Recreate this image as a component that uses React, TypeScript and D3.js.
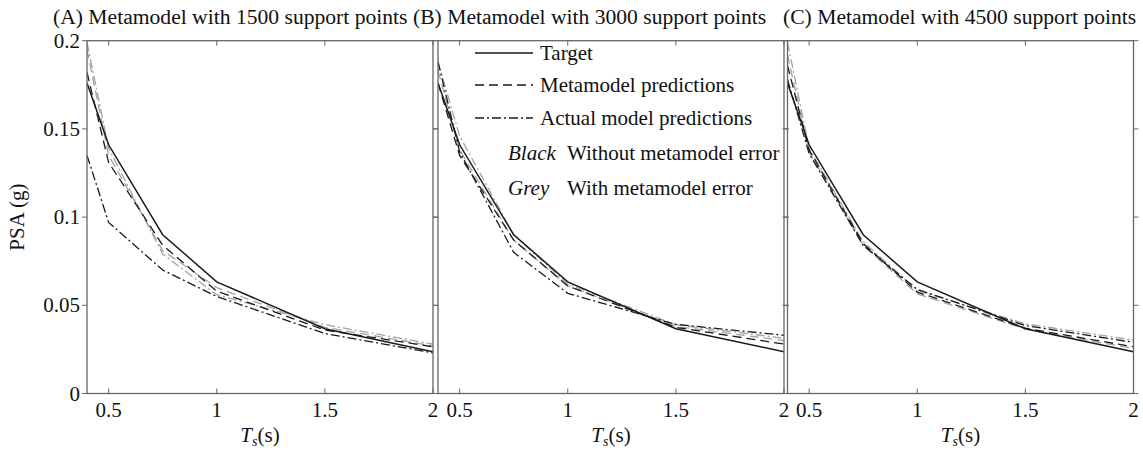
import React from "react";
import * as d3 from "d3";

// ---- data ----
const periods = [0.4, 0.5, 0.75, 1, 1.5, 2];
const target = [0.176, 0.141, 0.09, 0.0633, 0.0367, 0.0237];

const metaA = [0.182, 0.131, 0.084, 0.058, 0.036, 0.0265];
const actualA = [0.135, 0.097, 0.07, 0.055, 0.034, 0.023];
const metaErrA = [0.195, 0.135, 0.081, 0.06, 0.0375, 0.027];
const actualErrA = [0.199, 0.139, 0.079, 0.056, 0.039, 0.028];

const metaB = [0.176, 0.135, 0.087, 0.061, 0.0375, 0.028];
const actualB = [0.188, 0.137, 0.08, 0.0568, 0.0392, 0.033];
const metaErrB = [0.183, 0.138, 0.087, 0.061, 0.038, 0.03];
const actualErrB = [0.188, 0.146, 0.09, 0.062, 0.039, 0.0313];

const metaC = [0.186, 0.138, 0.085, 0.0575, 0.037, 0.0265];
const actualC = [0.178, 0.136, 0.084, 0.059, 0.0385, 0.029];
const metaErrC = [0.192, 0.137, 0.084, 0.0565, 0.0365, 0.0255];
const actualErrC = [0.199, 0.139, 0.086, 0.0585, 0.0395, 0.0303];

const titles = [
  "(A) Metamodel with 1500 support points",
  "(B) Metamodel with 3000 support points",
  "(C) Metamodel with 4500 support points",
];
const xTicks = [0.5, 1, 1.5, 2];
const yTicks = [0, 0.05, 0.1, 0.15, 0.2];
const legendLines = ["Target", "Metamodel predictions", "Actual model predictions"];
const legendColours = [
  ["Black", "Without metamodel error"],
  ["Grey", "With metamodel error"],
];

const panels = [
  { meta: metaA, actual: actualA, metaErr: metaErrA, actualErr: actualErrA },
  { meta: metaB, actual: actualB, metaErr: metaErrB, actualErr: actualErrB },
  { meta: metaC, actual: actualC, metaErr: metaErrC, actualErr: actualErrC },
];

// ---- layout ----
const W = 1143;
const H = 452;
const panelLeft = [87, 438, 787.5];
const panelW = 346;
const top = 40.7;
const bottom = 393.5;
const titleX = [53, 413, 783];
const FONT = "'Liberation Serif', 'Times New Roman', serif";
const FS = 21;
const BLACK = "#1a1a1a";
const GREY = "#a3a3a3";
const AXIS = "#666";
const DASH = "9,5";
const DASHDOT = "9,3,2,3";

export default function App() {
  const y = d3.scaleLinear().domain([0, 0.2]).range([bottom, top]);
  const line = (x: d3.ScaleLinear<number, number>) =>
    d3
      .line<number>()
      .x((_, i) => x(periods[i]))
      .y((d) => y(d));

  return (
    <svg
      width={W}
      height={H}
      style={{ position: "absolute", left: 0, top: 0, background: "#fff" }}
      fontFamily={FONT}
      fontSize={FS}
    >
      {panels.map((p, k) => {
        const x = d3.scaleLinear().domain([0.4, 2]).range([panelLeft[k], panelLeft[k] + panelW]);
        const l = line(x);
        const series = [
          { d: p.metaErr, c: GREY, dash: DASH, w: 1.3 },
          { d: p.actualErr, c: GREY, dash: DASHDOT, w: 1.3 },
          { d: p.meta, c: BLACK, dash: DASH, w: 1.3 },
          { d: p.actual, c: BLACK, dash: DASHDOT, w: 1.3 },
          { d: target, c: BLACK, dash: undefined, w: 1.5 },
        ];
        const x0 = panelLeft[k];
        const x1 = panelLeft[k] + panelW;
        const cx = (x0 + x1) / 2;
        return (
          <g key={k}>
            <text x={titleX[k]} y={24} fill="#111" fontSize={21.6}>
              {titles[k]}
            </text>
            <g clipPath={`url(#clip${k})`}>
              <defs>
                <clipPath id={`clip${k}`}>
                  <rect x={x0} y={top - 1} width={panelW} height={bottom - top + 2} />
                </clipPath>
              </defs>
              {series.map((s, i) => (
                <path
                  key={i}
                  d={l(s.d) || ""}
                  fill="none"
                  stroke={s.c}
                  strokeWidth={s.w}
                  strokeDasharray={s.dash}
                />
              ))}
            </g>
            <rect x={x0} y={top} width={panelW} height={bottom - top} fill="none" stroke={AXIS} strokeWidth={1.3} />
            {xTicks.map((t) => (
              <g key={t}>
                <line x1={x(t)} x2={x(t)} y1={bottom} y2={bottom - 5} stroke={AXIS} strokeWidth={1} />
                <line x1={x(t)} x2={x(t)} y1={top} y2={top + 5} stroke={AXIS} strokeWidth={1} />
                <text x={x(t)} y={417} textAnchor="middle" fill="#111">
                  {t}
                </text>
              </g>
            ))}
            {yTicks.map((t) => (
              <g key={t}>
                <line x1={x0} x2={x0 - 5} y1={y(t)} y2={y(t)} stroke={AXIS} strokeWidth={1} />
                <line x1={x1} x2={x1 + 5} y1={y(t)} y2={y(t)} stroke={AXIS} strokeWidth={1} />
              </g>
            ))}
            <text x={cx} y={442} textAnchor="middle" fill="#111">
              <tspan fontStyle="italic">T</tspan>
              <tspan fontStyle="italic" fontSize={14} dy={4}>s</tspan>
              <tspan dy={-4}>(s)</tspan>
            </text>
          </g>
        );
      })}
      {yTicks.map((t) => (
        <text key={t} x={80} y={y(t) + 7} textAnchor="end" fill="#111">
          {t}
        </text>
      ))}
      <text transform={`translate(24,${(top + bottom) / 2}) rotate(-90)`} textAnchor="middle" fill="#111">
        PSA (g)
      </text>
      {/* legend */}
      {legendLines.map((s, i) => {
        const yy = [53, 85, 118][i];
        return (
          <g key={s}>
            <line
              x1={475}
              x2={533}
              y1={yy}
              y2={yy}
              stroke={BLACK}
              strokeWidth={1.5}
              strokeDasharray={[undefined, DASH, DASHDOT][i]}
            />
            <text x={540} y={yy + 7} fill="#111">
              {s}
            </text>
          </g>
        );
      })}
      {legendColours.map((s, i) => {
        const yy = [153, 188][i];
        return (
          <g key={s[0]}>
            <text x={508} y={yy + 7} fontStyle="italic" fill="#111">
              {s[0]}
            </text>
            <text x={567} y={yy + 7} fill="#111">
              {s[1]}
            </text>
          </g>
        );
      })}
    </svg>
  );
}
